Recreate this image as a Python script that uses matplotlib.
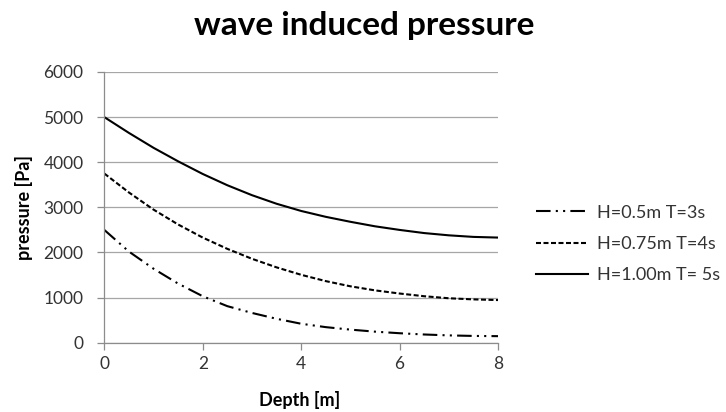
import matplotlib
matplotlib.use("Agg")
import matplotlib.pyplot as plt

plt.rcParams['font.family'] = ['Lato', 'DejaVu Sans']

depth = [0, 0.5, 1, 1.5, 2, 2.5, 3, 3.5, 4, 4.5, 5, 5.5, 6, 6.5, 7, 7.5, 8]
p_h050 = [2500, 2020, 1640, 1310, 1030, 810, 660, 530, 420, 345, 290, 245, 210, 182, 162, 150, 145]
p_h075 = [3750, 3330, 2950, 2620, 2330, 2080, 1860, 1670, 1505, 1365, 1250, 1160, 1090, 1030, 985, 960, 945]
p_h100 = [5000, 4650, 4320, 4020, 3740, 3490, 3270, 3080, 2920, 2790, 2680, 2580, 2500, 2430, 2380, 2345, 2330]
labels = ["H=0.5m T=3s", "H=0.75m T=4s", "H=1.00m T= 5s"]
xticks = [0, 2, 4, 6, 8]
yticks = [0, 1000, 2000, 3000, 4000, 5000, 6000]

fig = plt.figure(figsize=(7.26, 4.12), dpi=100)
ax = fig.add_axes([104.3/726, 1-342.7/412, (498-104.3)/726, (342.7-72)/412])

ax.plot(depth, p_h050, color='black', lw=1.5, dashes=(7, 2.5, 1, 2.5, 1, 2.5), label=labels[0])
ax.plot(depth, p_h075, color='black', lw=1.5, dashes=(2.4, 1.2), label=labels[1])
ax.plot(depth, p_h100, color='black', lw=1.5, label=labels[2])

ax.set_xlim(0, 8)
ax.set_ylim(0, 6000)
ax.set_xticks(xticks)
ax.set_yticks(yticks)
ax.yaxis.grid(True, color='#a6a6a6', lw=0.9)
ax.set_axisbelow(True)
for s in ['top', 'right']:
    ax.spines[s].set_visible(False)
for s in ['left', 'bottom']:
    ax.spines[s].set_color('#8c8c8c')
    ax.spines[s].set_linewidth(0.9)
ax.tick_params(axis='x', direction='out', length=5, width=0.9, color='#8c8c8c',
               labelsize=12.5, labelcolor='#333333', pad=4.5)
ax.tick_params(axis='y', direction='out', length=5, width=0.9, color='#8c8c8c',
               labelsize=12.5, labelcolor='#333333', pad=10)

fig.text(364/726, 1-26/412, "wave induced pressure", ha='center', va='center',
         fontsize=24, fontweight='bold', color='black')
fig.text(300/726, 1-400/412, "Depth [m]", ha='center', va='center',
         fontsize=13, fontweight='bold', color='black')
fig.text(24/726, 1-207/412, "pressure [Pa]", ha='center', va='center', rotation=90,
         fontsize=13, fontweight='bold', color='black')

fig.legend(loc='center left', bbox_to_anchor=(536/726, 1-244/412), frameon=False,
           fontsize=13, handlelength=2.9, handletextpad=0.5, labelspacing=0.85,
           borderpad=0, borderaxespad=0, labelcolor='#333333')

fig.savefig("out.png", dpi=100)
